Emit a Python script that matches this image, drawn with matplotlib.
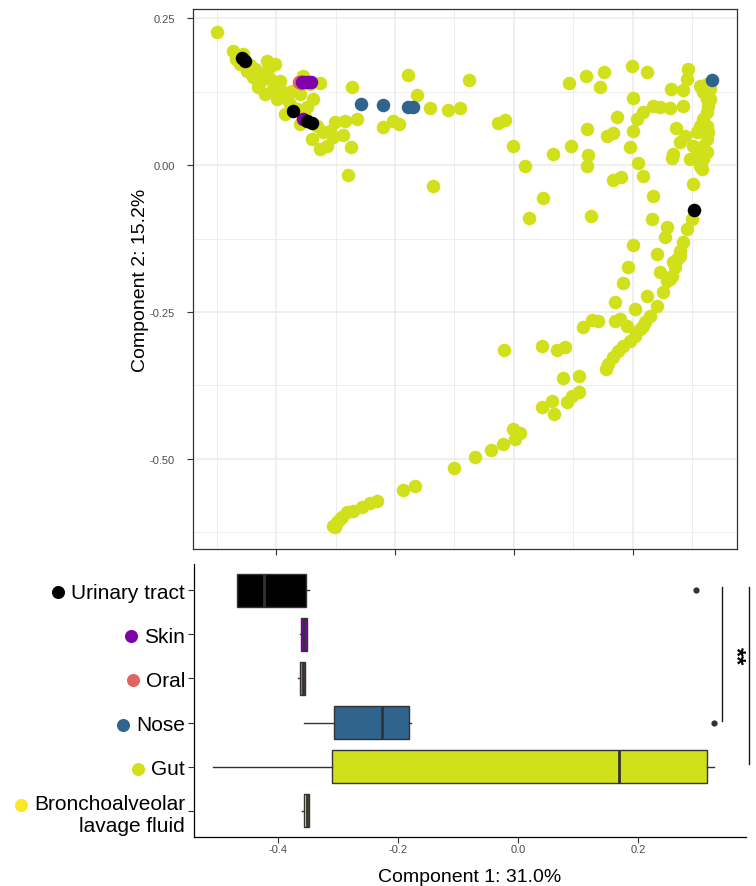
import matplotlib
matplotlib.use("Agg")
import matplotlib.pyplot as plt
from matplotlib.lines import Line2D

plt.rcParams['font.family'] = ['Liberation Sans', 'DejaVu Sans']

# ---------------- data ----------------
categories = ["Urinary tract", "Skin", "Oral", "Nose", "Gut",
              "Bronchoalveolar\nlavage fluid"]
cat_colors = ["#000000", "#7E03A8", "#E16462", "#31648C", "#D0E11C", "#FDE725"]

gut_x = [-0.499, -0.472, -0.461, -0.449, -0.439, -0.415, -0.402, -0.427, -0.410, -0.393,
         -0.405, -0.388, -0.382, -0.385, -0.365, -0.348, -0.355, -0.326, -0.331, -0.321,
         -0.314, -0.304, -0.301, -0.287, -0.284, -0.274, -0.279, -0.272, -0.264, -0.338,
         -0.360, -0.435, -0.424, -0.376, -0.351, -0.343, -0.455,
         -0.430, -0.418, -0.398, -0.373, -0.413, -0.444, -0.467, -0.360, -0.339, -0.326, -0.309,
         -0.220, -0.203, -0.193, -0.178, -0.163, -0.141, -0.111, -0.091, -0.076, -0.136,
         -0.027, -0.015, -0.002, 0.018, 0.049, 0.025, 0.066, 0.096, 0.124, 0.123,
         0.129, 0.092, 0.121, 0.151, 0.145, 0.198, 0.224, 0.200, 0.173, 0.123,
         0.156, 0.166, 0.200, 0.195, 0.207, 0.217, 0.234, 0.245, 0.262, 0.284,
         0.208, 0.217, 0.166, 0.180, 0.234, 0.232, 0.264, 0.284, 0.292, 0.291,
         0.272, 0.287, 0.279, 0.267, 0.266, 0.296, 0.313, 0.316,
         0.313, 0.318, 0.324, 0.326, 0.324, 0.318, 0.324, 0.326, 0.324, 0.318,
         0.316, 0.324, 0.318, 0.313, 0.308, 0.301, 0.308, 0.313, 0.329, 0.329,
         0.324, 0.301,
         0.299, 0.291, 0.284, 0.279, 0.274, 0.271, 0.266, 0.257, 0.250, 0.240,
         0.229, 0.220, 0.212, 0.203, 0.195, 0.183, 0.175, 0.166, 0.158, 0.155,
         0.257, 0.254, 0.240, 0.245, 0.262, 0.267, 0.279, 0.200, 0.192, 0.183,
         0.170, 0.224, 0.203, 0.178, 0.170, 0.190, 0.217, 0.131, 0.116, 0.109,
         0.082, 0.047, 0.072, 0.086, -0.017, 0.141,
         0.047, 0.064, 0.067, 0.089, 0.097, 0.109, -0.002, 0.010, 0.002, -0.018,
         -0.039, -0.066, -0.101, -0.166, -0.187, -0.230, -0.242, -0.255, -0.271, -0.281,
         -0.289, -0.297, -0.301, -0.304, -0.292]
gut_y = [0.227, 0.194, 0.172, 0.160, 0.150, 0.177, 0.172, 0.141, 0.147, 0.143,
         0.129, 0.124, 0.112, 0.087, 0.095, 0.099, 0.152, 0.140, 0.066, 0.056,
         0.032, 0.048, 0.073, 0.051, 0.075, 0.031, -0.017, 0.133, 0.078, 0.112,
         0.121, 0.164, 0.155, 0.104, 0.082, 0.138, 0.189,
         0.133, 0.121, 0.112, 0.126, 0.164, 0.170, 0.181, 0.070, 0.044, 0.027, 0.058,
         0.065, 0.075, 0.070, 0.153, 0.119, 0.097, 0.094, 0.097, 0.145, -0.036,
         0.072, 0.077, 0.032, -0.002, -0.056, -0.090, 0.019, 0.032, 0.017, -0.002,
         -0.087, 0.140, 0.152, 0.158, 0.133, 0.169, 0.158, 0.114, 0.082, 0.061,
         0.049, 0.055, 0.058, 0.031, 0.078, 0.090, 0.101, 0.099, 0.097, 0.101,
         0.003, -0.019, -0.026, -0.020, -0.053, -0.092, 0.129, 0.128, 0.164, 0.147,
         0.063, 0.049, 0.039, 0.019, 0.012, 0.010, -0.002, -0.007,
         0.135, 0.124, 0.112, 0.101, 0.090, 0.078, 0.066, 0.056, 0.044, 0.032,
         0.022, 0.022, 0.010, 0.005, 0.015, 0.032, 0.056, 0.066, 0.112, 0.129,
         0.138, -0.032,
         -0.092, -0.109, -0.131, -0.147, -0.160, -0.174, -0.189, -0.198, -0.216, -0.240,
         -0.257, -0.267, -0.279, -0.291, -0.300, -0.308, -0.317, -0.327, -0.339, -0.348,
         -0.106, -0.123, -0.152, -0.182, -0.194, -0.165, -0.155, -0.136, -0.174, -0.201,
         -0.233, -0.223, -0.245, -0.262, -0.266, -0.274, -0.274, -0.264, -0.276, -0.359,
         -0.363, -0.308, -0.315, -0.310, -0.315, -0.266,
         -0.412, -0.402, -0.424, -0.404, -0.394, -0.387, -0.450, -0.457, -0.467, -0.475,
         -0.486, -0.497, -0.516, -0.547, -0.554, -0.572, -0.576, -0.583, -0.589, -0.591,
         -0.600, -0.608, -0.617, -0.615, -0.603]

nose_x = [-0.357, -0.257, -0.220, -0.178, -0.170, 0.333]
nose_y = [0.141, 0.104, 0.102, 0.099, 0.099, 0.145]
oral_x = [-0.362, -0.360, -0.358]
oral_y = [0.141, 0.142, 0.140]
skin_x = [-0.356, -0.352, -0.346, -0.341, -0.354]
skin_y = [0.141, 0.141, 0.141, 0.141, 0.078]
urinary_x = [-0.457, -0.452, -0.371, -0.348, -0.339, 0.303]
urinary_y = [0.182, 0.177, 0.092, 0.075, 0.072, -0.077]

# box plot summaries of Component 1
box_q1 = [-0.469, -0.361, -0.363, -0.307, -0.310, -0.356]
box_med = [-0.423, -0.356, -0.359, -0.226, 0.168, -0.352]
box_q3 = [-0.353, -0.351, -0.355, -0.181, 0.315, -0.348]
box_whislo = [-0.469, -0.364, -0.367, -0.357, -0.509, -0.360]
box_whishi = [-0.348, -0.351, -0.355, -0.179, 0.327, -0.348]
box_fliers = [[0.296], [], [], [0.327], [], []]

x_ticks = [-0.4, -0.2, 0.0, 0.2]
x_ticklabels = ["-0.4", "-0.2", "0.0", "0.2"]
y_ticks = [0.25, 0.0, -0.25, -0.5]
y_ticklabels = ["0.25", "0.00", "-0.25", "-0.50"]

bracket_x = [0.340, 0.385]
bracket_top = [6.07, 6.07]
bracket_bottom = [3.04, 2.05]
sig_label = "**"

# ---------------- figure ----------------
W, H = 756, 887
fig = plt.figure(figsize=(W / 100, H / 100), dpi=100)
ax1 = fig.add_axes([193 / W, 1 - 550 / H, 544 / W, 540 / H])
ax2 = fig.add_axes([194 / W, 1 - 838 / H, 552 / W, 273 / H])

# scatter
pt_size = 95
ax1.scatter(gut_x, gut_y, s=pt_size, color=cat_colors[4], linewidths=0, zorder=3)
ax1.scatter(nose_x, nose_y, s=pt_size, color=cat_colors[3], linewidths=0, zorder=4)
ax1.scatter(oral_x, oral_y, s=pt_size, color=cat_colors[2], linewidths=0, zorder=5)
ax1.scatter(skin_x, skin_y, s=pt_size, color=cat_colors[1], linewidths=0, zorder=6)
ax1.scatter(urinary_x, urinary_y, s=pt_size, color=cat_colors[0], linewidths=0, zorder=7)

ax1.set_xlim(-0.5395, 0.3748)
ax1.set_ylim(-0.654, 0.266)
ax1.set_xticks(x_ticks)
ax1.set_xticklabels([])
ax1.set_xticks([-0.5, -0.3, -0.1, 0.1, 0.3], minor=True)
ax1.set_yticks(y_ticks)
ax1.set_yticklabels(y_ticklabels)
ax1.set_yticks([-0.625, -0.375, -0.125, 0.125], minor=True)
ax1.set_axisbelow(True)
ax1.grid(which='major', color='#EBEBEB', linewidth=1.1)
ax1.grid(which='minor', color='#EBEBEB', linewidth=0.6)
ax1.tick_params(which='minor', length=0)
ax1.tick_params(which='major', length=4, width=0.8, color='#333333',
                labelsize=8, labelcolor='#4D4D4D', pad=9)
for sp in ax1.spines.values():
    sp.set_color('#333333')
    sp.set_linewidth(0.9)
ax1.set_ylabel('Component 2: 15.2%', fontsize=14, labelpad=0.5)

# box plot
positions = [6, 5, 4, 3, 2, 1]
stats = []
for i in range(len(categories)):
    stats.append(dict(med=box_med[i], q1=box_q1[i], q3=box_q3[i],
                      whislo=box_whislo[i], whishi=box_whishi[i],
                      fliers=box_fliers[i], label=categories[i]))
bp = ax2.bxp(stats, positions=positions, widths=0.75, orientation='horizontal',
             patch_artist=True, showcaps=False,
             boxprops=dict(edgecolor='#333333', linewidth=1.0),
             medianprops=dict(color='#333333', linewidth=2.0),
             whiskerprops=dict(color='#333333', linewidth=1.0),
             flierprops=dict(marker='o', markerfacecolor='#333333',
                             markeredgecolor='none', markersize=4.5))
for patch, c in zip(bp['boxes'], cat_colors):
    patch.set_facecolor(c)

ax2.set_ylim(0.4, 6.6)
ax2.set_xlim(-0.54, 0.38)
ax2.set_yticks(positions)
ax2.set_yticklabels(categories, linespacing=1.2)
ax2.set_xticks(x_ticks)
ax2.set_xticklabels(x_ticklabels)
for s in ['top', 'right']:
    ax2.spines[s].set_visible(False)
for s in ['left', 'bottom']:
    ax2.spines[s].set_color('black')
    ax2.spines[s].set_linewidth(0.9)
ax2.tick_params(axis='y', labelsize=15, length=4, width=0.8, color='#333333',
                labelcolor='black', pad=2.5)
ax2.tick_params(axis='x', labelsize=8, length=4, width=0.8, color='#333333',
                labelcolor='#4D4D4D', pad=1)
ax2.set_xlabel('Component 1: 31.0%', fontsize=14, labelpad=10)

for bx, bt, bb in zip(bracket_x, bracket_top, bracket_bottom):
    ax2.plot([bx, bx], [bt, bb], color='#1a1a1a', linewidth=1.0, clip_on=False)
ax2.text(sum(bracket_x) / 2, 4.53, sig_label, rotation=270, fontsize=17,
         fontweight='bold', ha='center', va='center', clip_on=False)

# coloured dots before the category labels
fig.canvas.draw()
renderer = fig.canvas.get_renderer()
for lbl, c in zip(ax2.get_yticklabels(), cat_colors):
    bb = lbl.get_window_extent(renderer)
    if '\n' in lbl.get_text():
        yc = bb.y1 - 11
    else:
        yc = (bb.y0 + bb.y1) / 2
    xc = bb.x0 - 13
    fig.add_artist(Line2D([xc / W], [yc / H], transform=fig.transFigure,
                          marker='o', markersize=9.4, color=c,
                          markeredgewidth=0, linestyle='none'))

fig.savefig('out.png', dpi=100)
